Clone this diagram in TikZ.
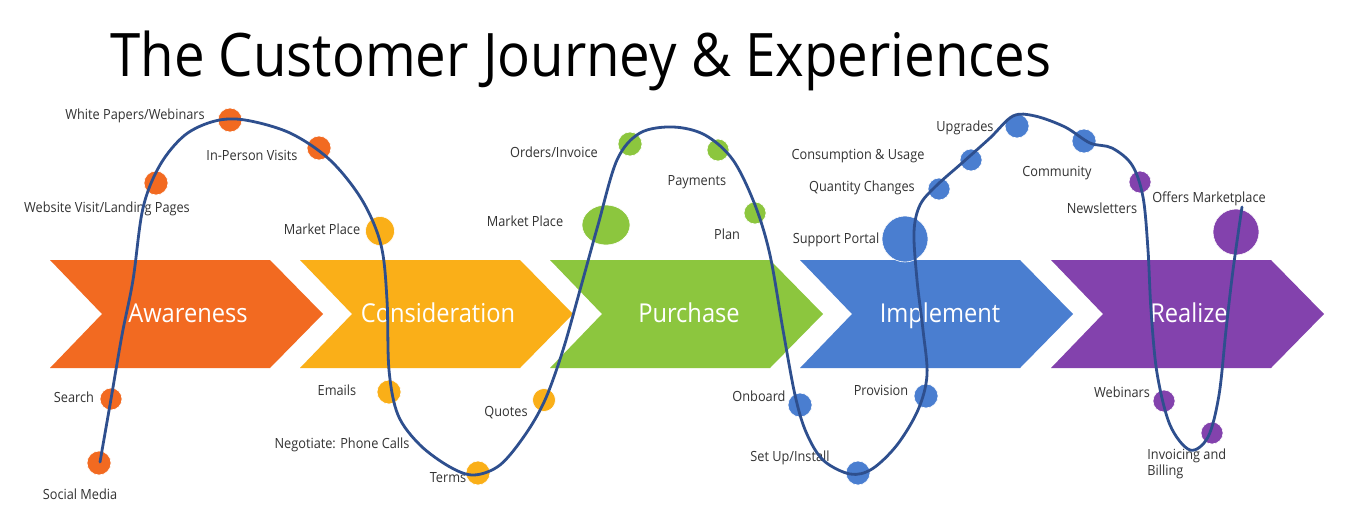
\documentclass[tikz,border=0pt]{standalone}
\usepackage{fontspec}
\usetikzlibrary{shapes.geometric}
\setmainfont[FakeStretch=0.91]{Open Sans}
\definecolor{cOrange}{HTML}{F26A21}
\definecolor{cYellow}{HTML}{FAAF18}
\definecolor{cGreen}{HTML}{8CC63E}
\definecolor{cBlue}{HTML}{4A7ED0}
\definecolor{cPurple}{HTML}{8342AD}
\definecolor{curveblue}{HTML}{2E4F8E}
\definecolor{labelgray}{HTML}{333333}
\tikzset{
 lbl/.style={font=\fontsize{7}{8.4}\selectfont, text=labelgray, inner sep=0pt},
 stage/.style={font=\fontsize{13}{15}\selectfont, text=white, inner sep=0pt, anchor=base},
 tdot/.style={circle, inner sep=0pt, minimum size=#1, draw=white, line width=0.3pt},
 journey/.style={draw=curveblue, line width=1.4pt, line cap=round},
}
\newcommand\mychev[2]{\fill[#2] (#1,260) -- ++(220,0) -- ++(53,54) -- ++(-53,54) -- ++(-220,0) -- ++(52,-54) -- cycle;}
\begin{document}
\begin{tikzpicture}[x=0.5pt,y=-0.5pt]
\useasboundingbox (0,0) rectangle (1360,530);
\fill[white] (0,0) rectangle (1360,530);
% title
\node[anchor=base west, inner sep=0pt, font=\fontsize{30}{36}\selectfont] (title) at (110,76) {The Customer Journey \& Experiences};
% chevrons
\mychev{50}{cOrange}
\mychev{300}{cYellow}
\mychev{550}{cGreen}
\mychev{800}{cBlue}
\mychev{1051}{cPurple}
\node[stage] (s1) at (188,322) {Awareness};
\node[stage] (s2) at (438,322) {Consideration};
\node[stage] (s3) at (689,322) {Purchase};
\node[stage] (s4) at (940,322) {Implement};
\node[stage] (s5) at (1189,322) {Realize};
% dots
\node[tdot=12pt, fill=cOrange] (d1) at (99,463) {};
\node[tdot=11pt, fill=cOrange] (d2) at (111,399) {};
\node[tdot=12pt, fill=cOrange] (d3) at (156,183) {};
\node[tdot=12pt, fill=cOrange] (d4) at (230,120) {};
\node[tdot=12pt, fill=cOrange] (d5) at (319,148) {};
\node[tdot=14.5pt, fill=cYellow] (d6) at (380,231) {};
\node[tdot=12pt, fill=cYellow] (d7) at (389,392) {};
\node[tdot=12pt, fill=cYellow] (d8) at (478,473) {};
\node[tdot=11.5pt, fill=cYellow] (d9) at (544,400) {};
\node[ellipse, inner sep=0pt, minimum width=24pt, minimum height=20pt, draw=white, line width=0.3pt, fill=cGreen] (d10) at (606,225) {};
\node[tdot=12pt, fill=cGreen] (d11) at (630,144) {};
\node[tdot=11pt, fill=cGreen] (d12) at (718,150) {};
\node[tdot=11pt, fill=cGreen] (d13) at (755,213) {};
\node[tdot=12pt, fill=cBlue] (d14) at (800,405) {};
\node[tdot=12pt, fill=cBlue] (d15) at (858,473) {};
\node[tdot=12pt, fill=cBlue] (d16) at (926,396) {};
\node[tdot=23pt, fill=cBlue] (d17) at (905,239) {};
\node[tdot=11pt, fill=cBlue] (d18) at (939,189) {};
\node[tdot=11pt, fill=cBlue] (d19) at (971,160) {};
\node[tdot=12pt, fill=cBlue] (d20) at (1017,126) {};
\node[tdot=12pt, fill=cBlue] (d21) at (1084,141) {};
\node[tdot=11pt, fill=cPurple] (d22) at (1140,182) {};
\node[tdot=23pt, fill=cPurple] (d23) at (1236,232) {};
\node[tdot=11pt, fill=cPurple] (d24) at (1164,401) {};
\node[tdot=11pt, fill=cPurple] (d25) at (1212,433) {};
% labels
\node[lbl] (l1) at (80,494) {Social Media};
\node[lbl] (l2) at (74,397) {Search};
\node[lbl] (l3) at (107,209) {Website Visit/Landing Pages};
\node[lbl] (l4) at (135,116) {White Papers/Webinars};
\node[lbl] (l5) at (252,155) {In-Person Visits};
\node[lbl] (l6) at (322,229) {Market Place};
\node[lbl] (l7) at (337,390) {Emails};
\node[lbl] (l8) at (342,445) {Negotiate: Phone Calls};
\node[lbl] (l9) at (448,478) {Terms};
\node[lbl] (l10) at (506,413) {Quotes};
\node[lbl] (l11) at (525,221) {Market Place};
\node[lbl] (l12) at (554,152) {Orders/Invoice};
\node[lbl] (l13) at (697,182) {Payments};
\node[lbl] (l14) at (727,234) {Plan};
\node[lbl] (l15) at (759,396) {Onboard};
\node[lbl] (l16) at (790,458) {Set Up/Install};
\node[lbl] (l17) at (881,390) {Provision};
\node[lbl] (l18) at (836,240) {Support Portal};
\node[lbl] (l19) at (862,188) {Quantity Changes};
\node[lbl] (l20) at (858,156) {Consumption \& Usage};
\node[lbl] (l21) at (965,128) {Upgrades};
\node[lbl] (l22) at (1057,173) {Community};
\node[lbl] (l23) at (1102,208) {Newsletters};
\node[lbl] (l24) at (1209,199) {Offers Marketplace};
\node[lbl] (l25) at (1122,392) {Webinars};
\node[lbl, anchor=north west, align=left] (l26) at (1147,448) {Invoicing and\\Billing};
% journey curve
\draw[journey] plot[smooth, tension=0.55] coordinates {
(100,462) (111,399) (122,335) (133,280) (143,208) (160,165) (185,135) (215,121) (245,120)
(290,133) (330,160) (362,200) (381,245) (387,300) (389,370) (398,415) (420,445) (450,467)
(474,475) (500,465) (525,435) (545,400) (563,350) (580,290) (598,225) (617,160) (640,133)
(673,127) (705,135) (733,160) (755,205) (770,255) (783,330) (795,395) (806,432) (823,460)
(850,474) (872,469) (897,445) (918,410) (927,375) (923,330) (917,280) (914,232) (920,205)
(936,186) (962,163) (990,138) (1013,116) (1035,116) (1065,127) (1090,143) (1112,148) (1132,165)
(1143,197) (1148,250) (1151,310) (1157,373) (1170,425) (1190,450) (1208,437) (1219,395)
(1226,330) (1233,270) (1242,207)};
\end{tikzpicture}
\end{document}
